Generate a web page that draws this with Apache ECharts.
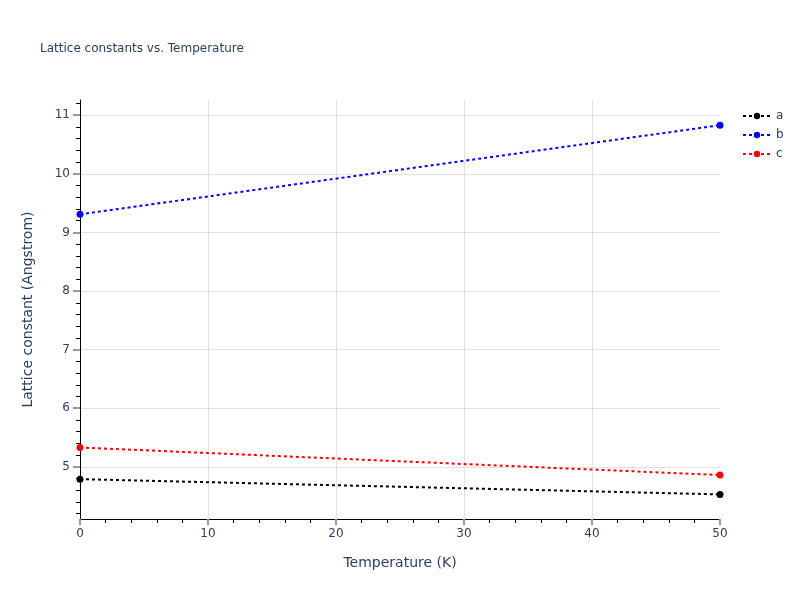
<!DOCTYPE html>
<html>
<head>
<meta charset="utf-8">
<title>Lattice constants vs. Temperature</title>
<script src="https://cdn.jsdelivr.net/npm/echarts@6/dist/echarts.min.js"></script>
<style>
  html, body { margin: 0; padding: 0; background: #fff; }
  #chart { width: 800px; height: 600px; }
</style>
</head>
<body>
<div id="chart"></div>
<script>
// temperatures (K) and lattice constants (Angstrom)
var temperature = [0, 50];
var latticeA = [4.79, 4.53];
var latticeB = [9.31, 10.83];
var latticeC = [5.33, 4.86];
var seriesNames = ['a', 'b', 'c'];
var seriesColors = ['#000000', '#0000ff', '#ff0000'];

var yMin = 4.11, yMax = 11.26;
var yTicks = [5, 6, 7, 8, 9, 10, 11];
var yMinorTicks = [];
for (var i = 21; i <= 56; i++) {
    if (i % 5 !== 0) yMinorTicks.push(Math.round(i * 2) / 10);
}

var textColor = '#2a3f5f';
var gridColor = '#e2e2e2';
var font = 'DejaVu Sans';

function pairs(ys) {
    return temperature.map(function (t, k) { return [t, ys[k]]; });
}

var chart = echarts.init(document.getElementById('chart'));

var lineSeries = [latticeA, latticeB, latticeC].map(function (ys, k) {
    return {
        name: seriesNames[k],
        type: 'line',
        data: pairs(ys),
        symbol: 'circle',
        symbolSize: 7,
        showSymbol: true,
        itemStyle: { color: seriesColors[k] },
        lineStyle: { color: seriesColors[k], width: 2, type: [3, 3] },
        emphasis: { disabled: true },
        animation: false
    };
});

var options = {
    backgroundColor: '#ffffff',
    title: {
        text: 'Lattice constants vs. Temperature',
        left: 35,
        top: 38,
        textStyle: { fontFamily: font, fontSize: 12, fontWeight: 'normal', color: textColor }
    },
    legend: {
        orient: 'vertical',
        left: 737,
        top: 105,
        itemWidth: 28,
        itemHeight: 8,
        itemGap: 7,
        textStyle: { fontFamily: font, fontSize: 12, color: textColor },
        data: seriesNames
    },
    grid: { left: 80, right: 80, top: 100, bottom: 81, containLabel: false },
    xAxis: {
        type: 'value',
        min: 0,
        max: 50,
        interval: 10,
        name: 'Temperature (K)',
        nameLocation: 'middle',
        nameGap: 37,
        nameTextStyle: { fontFamily: font, fontSize: 14, color: textColor },
        axisLine: { show: true, onZero: false, lineStyle: { color: '#000000', width: 1 } },
        axisTick: { show: true, length: 6, lineStyle: { color: '#999999', width: 2 } },
        minorTick: { show: true, splitNumber: 5, length: 4, lineStyle: { color: '#000000', width: 1 } },
        axisLabel: { fontFamily: font, fontSize: 12, color: textColor, margin: 9 },
        splitLine: { show: true, showMinLine: false, showMaxLine: false, lineStyle: { color: gridColor, width: 1 } }
    },
    yAxis: [{
        type: 'value',
        min: yMin,
        max: yMax,
        position: 'left',
        name: 'Lattice constant (Angstrom)',
        nameLocation: 'middle',
        nameGap: 45,
        nameTextStyle: { fontFamily: font, fontSize: 14, color: textColor },
        axisLine: { show: true, onZero: false, lineStyle: { color: '#000000', width: 1 } },
        axisTick: { show: true, length: 7, customValues: yTicks, lineStyle: { color: '#999999', width: 2 } },
        axisLabel: { fontFamily: font, fontSize: 12, color: textColor, margin: 10, customValues: yTicks },
        splitLine: { show: true, lineStyle: { color: gridColor, width: 1 } }
    }, {
        type: 'value',
        min: yMin,
        max: yMax,
        position: 'left',
        axisLine: { show: false },
        axisTick: { show: true, length: 4, customValues: yMinorTicks, lineStyle: { color: '#000000', width: 1 } },
        axisLabel: { show: false },
        splitLine: { show: false }
    }],
    series: lineSeries
};

chart.setOption(options);
window.onresize = function () {
    chart.resize();
};
</script>
</body>
</html>
